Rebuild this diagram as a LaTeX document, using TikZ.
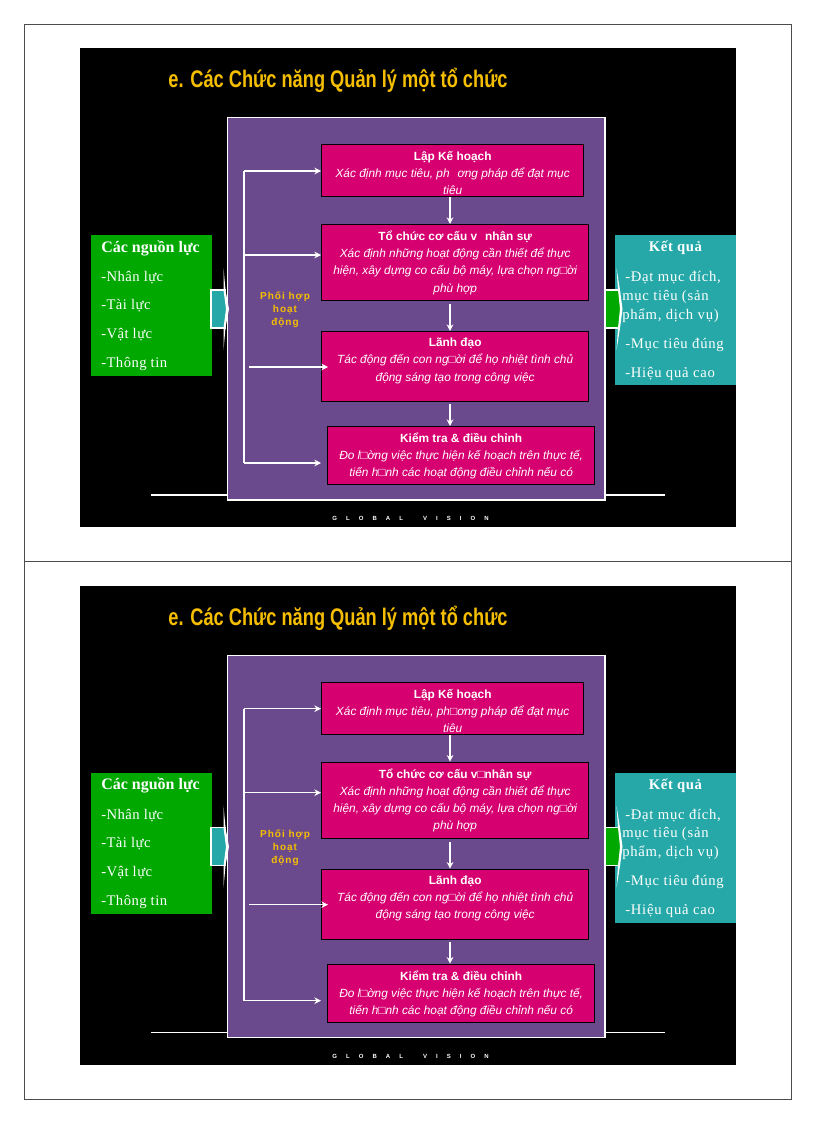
\documentclass[tikz,border=0pt]{standalone}
\usepackage{fontspec}
\usepackage{tikz}
\usetikzlibrary{arrows.meta,calc}
\setmainfont{Liberation Sans}
\newfontfamily\serifface{Liberation Serif}
\newfontfamily\titleface[FakeStretch=0.76]{Liberation Sans}
\definecolor{slidepurple}{RGB}{106,74,140}
\definecolor{boxmagenta}{RGB}{214,0,112}
\definecolor{inputgreen}{RGB}{0,168,0}
\definecolor{outputteal}{RGB}{38,168,168}
\definecolor{titlegold}{RGB}{245,190,0}
\tikzset{
    procbox/.style={draw=black, line width=1pt, fill=boxmagenta, anchor=north west, inner sep=0pt},
    proctext/.style={text=white, align=center, anchor=north, inner sep=0pt, font=\fontsize{8.9}{12.8}\selectfont},
    sidetext/.style={text=white, anchor=west, inner sep=0pt, font=\serifface\fontsize{11}{12}\selectfont},
    flowarrow/.style={draw=white, line width=1pt, -{Stealth[length=5pt,width=5pt]}},
    busline/.style={draw=white, line width=1pt},
    rulewhite/.style={draw=white, line width=.8pt},
}
\newcommand{\workbox}[6]{
    \node[procbox, minimum width=#4*.75pt, minimum height=#5*.75pt] (#1) at (#2,#3) {};
    \node[proctext] (#1text) at ($(#1.north)+(0,7)$) {#6};
}
% one slide of the sheet: #1 name prefix, #2 vertical offset, #3 lost glyph
\newcommand{\slidepage}[3]{
\begin{scope}[shift={(0,#2)}]
\fill[black] (80,48) rectangle (736,527);
\draw[rulewhite] (151,495) -- (665,495);
\node[text=titlegold, inner sep=0pt, font=\titleface\bfseries\fontsize{18}{20}\selectfont] (#1title) at (338,80.5) {e. Các Chức năng Quản lý một tổ chức};
\node[text=white, inner sep=0pt, font=\bfseries\fontsize{4.5}{5}\selectfont] (#1brand) at (410.5,518.5) {G\hspace{6.8pt}L\hspace{6.8pt}O\hspace{6.8pt}B\hspace{6.8pt}A\hspace{6.8pt}L\hspace{15pt}V\hspace{6.8pt}I\hspace{6.8pt}S\hspace{6.8pt}I\hspace{6.8pt}O\hspace{6.8pt}N};
\draw[draw=white, line width=1pt, fill=slidepurple] (227.5,117.5) rectangle (605,500);
%
\workbox{#1plan}{321}{144}{262}{52}{{\bfseries Lập Kế hoạch}\\ \itshape Xác định mục tiêu, ph#3ơng pháp để đạt mục\\ \itshape tiêu}
\workbox{#1org}{321}{224}{267}{76}{{\bfseries Tổ chức cơ cấu v#3nhân sự}\\ \itshape Xác định những hoạt động cần thiết để thực\\ \itshape hiện, xây dựng co cấu bộ máy, lựa chọn ng□ời\\ \itshape phù hợp}
\workbox{#1lead}{321}{331}{267}{70}{{\bfseries Lãnh đạo}\\ \itshape Tác động đến con ng□ời để họ nhiệt tình chủ\\ \itshape động sáng tạo trong công việc}
\workbox{#1ctrl}{327}{426}{267}{58}{{\bfseries Kiểm tra \& điều chỉnh}\\ \itshape Đo l□ờng việc thực hiện kế hoạch trên thực tế,\\ \itshape tiến h□nh các hoạt động điều chỉnh nếu có}
%
\coordinate (#1spine) at (450,0);
\draw[flowarrow] (#1plan.south -| #1spine) -- (#1org.north -| #1spine);
\draw[flowarrow] ($(#1org.south -| #1spine)+(0,3)$) -- (#1lead.north -| #1spine);
\draw[flowarrow] ($(#1lead.south -| #1spine)+(0,2)$) -- (#1ctrl.north -| #1spine);
\coordinate (#1bus1) at (244,171);
\coordinate (#1bus2) at (244,255);
\coordinate (#1free) at (249,367);
\coordinate (#1bus4) at (244,463);
\draw[busline] (#1bus1) -- (#1bus4);
\foreach \bus/\dest in {bus1/plan,bus2/org,bus4/ctrl}{
    \draw[flowarrow] (#1\bus) -- (#1\bus -| #1plan.west);
}
\draw[flowarrow] (#1free) -- (#1free -| #1lead.west) -- ++(7,0);
\node[text=titlegold, align=center, inner sep=0pt, font=\bfseries\fontsize{7.5}{9.7}\selectfont] (#1coord) at (285,310) {\addfontfeature{LetterSpace=10}Phối hợp\\ \addfontfeature{LetterSpace=10}hoạt\\ \addfontfeature{LetterSpace=10}động};
%
\node[fill=inputgreen, minimum width=90.75pt, minimum height=105.75pt, anchor=north west, inner sep=0pt] (#1input) at (91,235) {};
\node[sidetext, font=\serifface\bfseries\fontsize{12}{13}\selectfont] (#1inhead) at (101,248) {Các nguồn lực};
\foreach \y/\txt [count=\idx] in {278/Nhân lực,306/Tài lực,335/Vật lực,364/Thông tin}{
    \node[sidetext] (#1in\idx) at (101,\y) {\addfontfeature{LetterSpace=3}-\txt};
}
\node[fill=outputteal, minimum width=90.75pt, minimum height=112.5pt, anchor=north west, inner sep=0pt] (#1output) at (615,235) {};
\node[sidetext, font=\serifface\bfseries\fontsize{11}{12}\selectfont, anchor=center] (#1outhead) at (675.5,248) {\addfontfeature{LetterSpace=4}Kết quả};
\node[sidetext] (#1out1) at (625,278) {\addfontfeature{LetterSpace=5}-Đạt mục đích,};
\node[sidetext] (#1out2) at (622,296.5) {\addfontfeature{LetterSpace=5}mục tiêu (sản};
\node[sidetext] (#1out3) at (622,315.5) {\addfontfeature{LetterSpace=5}phẩm, dịch vụ)};
\node[sidetext] (#1out4) at (625,344.5) {\addfontfeature{LetterSpace=5}-Mục tiêu đúng};
\node[sidetext] (#1out5) at (625,373.5) {\addfontfeature{LetterSpace=5}-Hiệu quả cao};
%
\fill[outputteal] (211,290) rectangle (226,328);
\draw[white, line width=.8pt] (226,290) -- (211,290) -- (211,328) -- (226,328);
\fill[white] (223.5,268) -- (225.5,290) -- (229,309) -- (225.5,328) -- (223.5,350) -- (223.5,328) -- (226,309) -- (223.5,290) -- cycle;
\fill[inputgreen] (605,290) rectangle (620,328);
\draw[white, line width=.8pt] (620,290) -- (605,290) -- (605,328) -- (620,328);
\fill[white] (616.5,268) -- (620,290) -- (622.5,309) -- (620,328) -- (616.5,350) -- (618,328) -- (620,309) -- (618,290) -- cycle;
\end{scope}
}

\begin{document}
\begin{tikzpicture}[x=.75pt,y=-.75pt]
\useasboundingbox (0,0) rectangle (816,1123);
\fill[white] (0,0) rectangle (816,1123);
\draw[black!70, line width=.6pt] (24,24) rectangle (791,1099);
\draw[black!70, line width=.6pt] (24,561) -- (791,561);
\slidepage{a}{0}{\hspace{6pt}}
\slidepage{b}{537.7}{□}
\end{tikzpicture}
\end{document}
